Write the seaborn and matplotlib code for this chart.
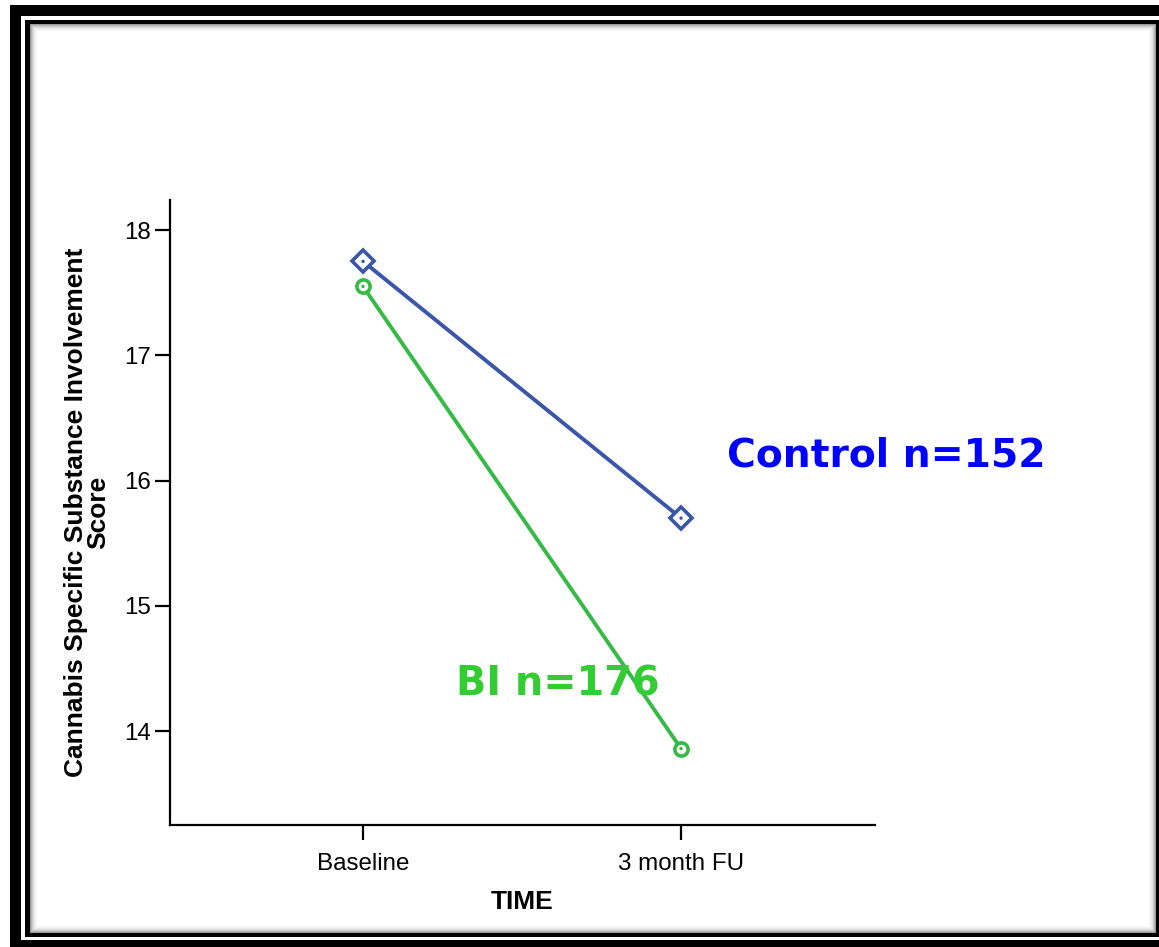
import matplotlib
matplotlib.use("Agg")
import matplotlib.pyplot as plt
from matplotlib.patches import Rectangle
import pandas as pd
import seaborn as sns

times = ["Baseline", "3 month FU"]
control_scores = [17.75, 15.70]
bi_scores = [17.55, 13.86]
groups = ["Control", "BI"]

df = pd.DataFrame({
    "TIME": times * 2,
    "Score": control_scores + bi_scores,
    "Group": [groups[0]] * 2 + [groups[1]] * 2,
})

sns.set_style("white")
plt.rcParams["font.family"] = ["Liberation Sans", "DejaVu Sans"]
plt.rcParams["text.color"] = "black"
plt.rcParams["axes.labelcolor"] = "black"

W, H = 1159, 947
fig = plt.figure(figsize=(W / 100, H / 100), dpi=100)

# rahmen (pixel -> figure coords), hinter den axes
def box(x0, y0, x1, y1, **kw):
    fig.add_artist(Rectangle((x0 / W, 1 - y1 / H), (x1 - x0) / W, (y1 - y0) / H,
                             transform=fig.transFigure, lw=0, zorder=-10, **kw))

box(10, 5, 1175, 965, color="black")
box(21, 16, 1170, 940, color="white")
box(25, 20, 1170, 937, color="black")
box(30, 24, 1156, 933, color="#9a9a9a")
for i, c in enumerate(["#b5b5b5", "#cccccc", "#dddddd", "#e9e9e9", "#f2f2f2", "#f8f8f8", "#ffffff"]):
    box(31 + i, 25 + i, 1155 - i, 932 - i, color=c)

ax = fig.add_axes([170 / W, 1 - 825 / H, (875 - 170) / W, (825 - 200) / H])
ax.set_facecolor("none")

palette = {"Control": "#3a56a8", "BI": "#35bb45"}
markers = {"Control": "D", "BI": "o"}
sizes = {"Control": 11, "BI": 9.5}

for g in groups:
    sub = df[df["Group"] == g]
    sns.lineplot(data=sub, x="TIME", y="Score", ax=ax, color=palette[g], lw=2.8,
                 marker=markers[g], markersize=sizes[g], markerfacecolor="white",
                 markeredgecolor=palette[g], markeredgewidth=2.6, legend=False)
    sns.scatterplot(data=sub, x="TIME", y="Score", ax=ax, color=palette[g], s=6,
                    edgecolor="none", legend=False, zorder=5)

ax.set_xlim(-0.607, 1.61)
ax.set_ylim(13.25, 18.24)
ax.set_yticks([14, 15, 16, 17, 18])
for s in ["top", "right"]:
    ax.spines[s].set_visible(False)
for s in ["left", "bottom"]:
    ax.spines[s].set_color("black")
    ax.spines[s].set_linewidth(1.6)
ax.tick_params(axis="both", direction="out", length=11, width=1.6, colors="black",
               labelsize=17.4, left=True, bottom=True)
ax.tick_params(axis="x", pad=9)
ax.tick_params(axis="y", pad=3)

ax.set_xlabel("TIME", fontsize=19, fontweight="bold", labelpad=11)
ax.set_ylabel("Cannabis Specific Substance Involvement\nScore", fontsize=19,
              fontweight="bold", labelpad=10, linespacing=0.9)

ax.text(727 / W, 1 - 466 / H, "Control n=152", transform=fig.transFigure,
        family="DejaVu Sans", fontweight="bold", fontsize=28.3, color="#0000ff")
ax.text(456 / W, 1 - 695 / H, "BI n=176", transform=fig.transFigure,
        family="DejaVu Sans", fontweight="bold", fontsize=28.6, color="#33cc33")

fig.savefig("out.png", dpi=100)
